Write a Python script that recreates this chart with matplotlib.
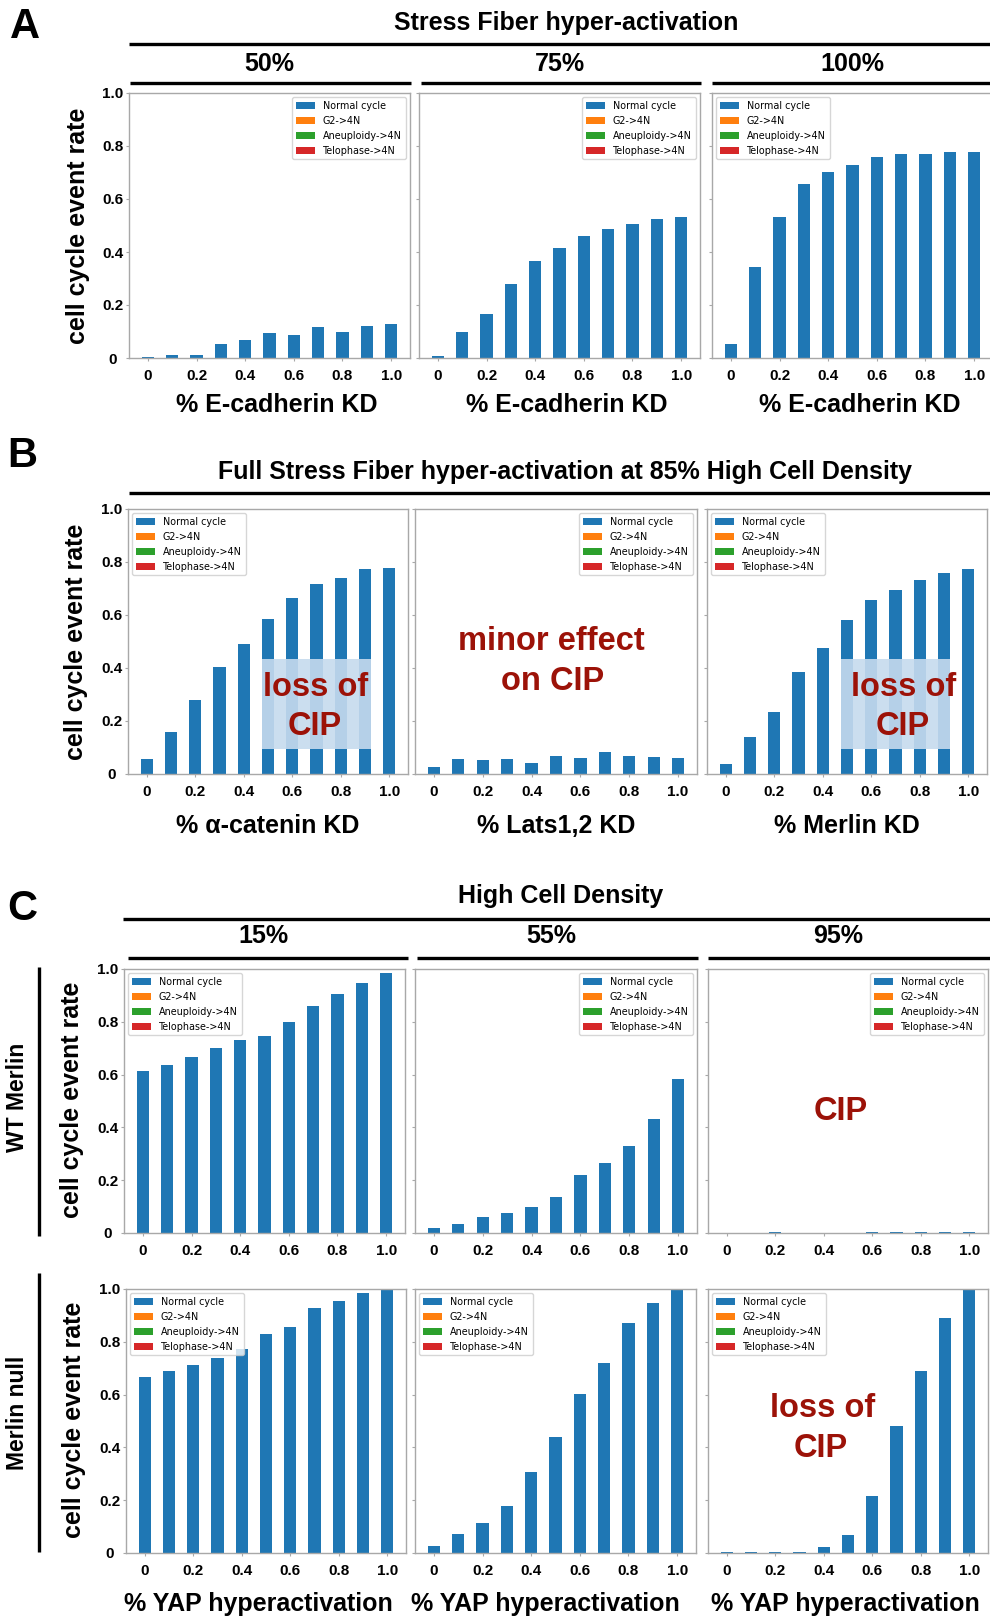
import matplotlib
matplotlib.use('Agg')
import matplotlib.pyplot as plt
from matplotlib.patches import Rectangle
from matplotlib.lines import Line2D
import numpy as np

plt.rcParams['font.family'] = ['Liberation Sans', 'DejaVu Sans']
plt.rcParams['font.weight'] = 'bold'

W, H = 990, 1618
DPI = 100

# ---------------- data ----------------
x_vals = [0.0, 0.1, 0.2, 0.3, 0.4, 0.5, 0.6, 0.7, 0.8, 0.9, 1.0]
xticks = [0, 0.2, 0.4, 0.6, 0.8, 1.0]
xtick_labels = ['0', '0.2', '0.4', '0.6', '0.8', '1.0']
yticks = [0, 0.2, 0.4, 0.6, 0.8, 1.0]
ytick_labels = ['0', '0.2', '0.4', '0.6', '0.8', '1.0']
series_names = ['Normal cycle', 'G2->4N', 'Aneuploidy->4N', 'Telophase->4N']
series_colors = ['#1f77b4', '#ff7f0e', '#2ca02c', '#d62728']
g2_4n = [0] * 11
aneuploidy_4n = [0] * 11
telophase_4n = [0] * 11

a_titles = ['50%', '75%', '100%']
a_normal_50 = [0.005, 0.010, 0.012, 0.053, 0.069, 0.094, 0.088, 0.117, 0.098, 0.119, 0.129]
a_normal_75 = [0.006, 0.100, 0.166, 0.279, 0.366, 0.414, 0.461, 0.486, 0.504, 0.523, 0.532]
a_normal_100 = [0.054, 0.343, 0.532, 0.656, 0.703, 0.728, 0.759, 0.768, 0.770, 0.778, 0.779]

b_xlabels = ['% \u03b1-catenin KD', '% Lats1,2 KD', '% Merlin KD']
b_normal_acat = [0.055, 0.160, 0.280, 0.404, 0.489, 0.584, 0.664, 0.717, 0.740, 0.774, 0.777]
b_normal_lats = [0.026, 0.058, 0.052, 0.058, 0.042, 0.069, 0.059, 0.082, 0.069, 0.063, 0.059]
b_normal_merlin = [0.038, 0.138, 0.234, 0.384, 0.477, 0.580, 0.657, 0.694, 0.732, 0.760, 0.774]

c_titles = ['15%', '55%', '95%']
c_rows = ['WT Merlin', 'Merlin null']
c_wt_15 = [0.612, 0.637, 0.666, 0.701, 0.731, 0.747, 0.801, 0.858, 0.907, 0.947, 0.986]
c_wt_55 = [0.019, 0.034, 0.059, 0.074, 0.097, 0.135, 0.221, 0.264, 0.330, 0.431, 0.585]
c_wt_95 = [0.0, 0.0, 0.002, 0.0, 0.0, 0.0, 0.002, 0.002, 0.002, 0.002, 0.002]
c_null_15 = [0.665, 0.689, 0.711, 0.737, 0.774, 0.831, 0.856, 0.928, 0.956, 0.985, 1.0]
c_null_55 = [0.025, 0.071, 0.112, 0.179, 0.307, 0.439, 0.602, 0.718, 0.872, 0.948, 1.0]
c_null_95 = [0.002, 0.002, 0.002, 0.004, 0.023, 0.067, 0.217, 0.481, 0.689, 0.890, 1.0]

# ---------------- styling ----------------
DARKRED = '#9c1208'
SPINE = '#a8a8a8'
BOXBLUE = '#c6dbee'

fig = plt.figure(figsize=(W / DPI, H / DPI), dpi=DPI)


def px_axes(l, t, r, b):
    return fig.add_axes([l / W, 1 - b / H, (r - l) / W, (b - t) / H])


def ptext(x, y, s, **kw):
    return fig.text(x / W, 1 - y / H, s, **kw)


def hline(x0, x1, y, lw=2.4):
    fig.add_artist(Line2D([x0 / W, x1 / W], [1 - y / H, 1 - y / H],
                          transform=fig.transFigure, color='black', lw=lw,
                          solid_capstyle='butt'))


def vline(x, y0, y1, lw=2.4):
    fig.add_artist(Line2D([x / W, x / W], [1 - y0 / H, 1 - y1 / H],
                          transform=fig.transFigure, color='black', lw=lw,
                          solid_capstyle='butt'))


def draw_panel(box, normal, legend_loc, show_ylabels):
    ax = px_axes(*box)
    bottom = np.zeros(len(x_vals))
    for name, color, vals in zip(series_names, series_colors,
                                 [normal, g2_4n, aneuploidy_4n, telophase_4n]):
        ax.bar(x_vals, vals, width=0.05, bottom=bottom, color=color, label=name)
        bottom = bottom + np.array(vals)
    ax.set_ylim(0, 1.0)
    ax.set_xticks(xticks)
    ax.set_xticklabels(xtick_labels)
    ax.set_yticks(yticks)
    if show_ylabels:
        ax.set_yticklabels(ytick_labels)
        for lab in ax.get_yticklabels():
            lab.set_horizontalalignment('center')
    else:
        ax.set_yticklabels([])
    for sp in ax.spines.values():
        sp.set_color(SPINE)
        sp.set_linewidth(1.0)
    ax.tick_params(axis='x', length=2.5, width=0.8, color=SPINE, labelsize=11, pad=5.5)
    ax.tick_params(axis='y', length=2.5, width=0.8, color=SPINE, labelsize=11, pad=9.0)
    ax.legend(loc=legend_loc, prop={'family': 'DejaVu Sans', 'size': 6.9, 'weight': 'normal'},
              borderaxespad=0.45)
    return ax


def cip_box(ax):
    ax.add_patch(Rectangle((0.475, 0.095), 0.45, 0.34, facecolor=BOXBLUE,
                           edgecolor='none', alpha=0.9, zorder=3))


ANN = dict(color=DARKRED, fontsize=23.5, fontweight='bold', ha='center', va='baseline',
           family='Liberation Sans')
HDR = dict(fontsize=18, fontweight='bold', ha='center', va='baseline', family='Liberation Sans')

# ---------------- Panel A ----------------
ptext(24.5, 38, 'A', fontsize=30, fontweight='bold', ha='center', va='baseline')
ptext(566, 30, 'Stress Fiber hyper-activation', **HDR)
hline(129, 990, 44)
a_boxes = [(129, 93, 410, 358), (419, 93, 700, 358), (712, 93, 993, 358)]
a_data = [a_normal_50, a_normal_75, a_normal_100]
a_locs = ['upper right', 'upper right', 'upper left']
a_hdr_lines = [(130, 411), (421, 701), (712, 990)]
for i in range(3):
    l, t, r, b = a_boxes[i]
    draw_panel(a_boxes[i], a_data[i], a_locs[i], i == 0)
    ptext((l + r) / 2, 71, a_titles[i], **HDR)
    hline(a_hdr_lines[i][0], a_hdr_lines[i][1], 83)
    ptext((l + r) / 2 + 7.5, 412, '% E-cadherin KD', **HDR)
ptext(78, 225.5, 'cell cycle event rate', fontsize=18, fontweight='bold',
      rotation=90, ha='center', va='center')

# ---------------- Panel B ----------------
ptext(22.5, 467, 'B', fontsize=30, fontweight='bold', ha='center', va='baseline')
ptext(565.5, 479, 'Full Stress Fiber hyper-activation at 85% High Cell Density', **HDR)
hline(129, 990, 493)
b_boxes = [(128, 509, 408, 774), (415, 509, 697, 774), (707, 509, 987, 774)]
b_data = [b_normal_acat, b_normal_lats, b_normal_merlin]
b_locs = ['upper left', 'upper right', 'upper left']
b_axes = []
for i in range(3):
    l, t, r, b = b_boxes[i]
    b_axes.append(draw_panel(b_boxes[i], b_data[i], b_locs[i], i == 0))
    ptext((l + r) / 2, 833, b_xlabels[i], **HDR)
ptext(76, 641.5, 'cell cycle event rate', fontsize=18, fontweight='bold',
      rotation=90, ha='center', va='center')
cip_box(b_axes[0])
cip_box(b_axes[2])
ptext(316, 696, 'loss of', **ANN)
ptext(314.5, 735, 'CIP', **ANN)
ptext(904, 696, 'loss of', **ANN)
ptext(903, 735, 'CIP', **ANN)
ptext(551.5, 650, 'minor effect', **ANN)
ptext(553, 690, 'on CIP', **ANN)

# ---------------- Panel C ----------------
ptext(22, 920, 'C', fontsize=30, fontweight='bold', ha='center', va='baseline')
ptext(561, 903, 'High Cell Density', **HDR)
hline(123, 990, 919)
c_boxes_r1 = [(124, 969, 405, 1233), (415, 969, 697, 1233), (708, 969, 988, 1233)]
c_boxes_r2 = [(126, 1289, 406, 1553), (415, 1289, 696, 1553), (708, 1289, 988, 1553)]
c_data_r1 = [c_wt_15, c_wt_55, c_wt_95]
c_data_r2 = [c_null_15, c_null_55, c_null_95]
c_locs_r1 = ['upper left', 'upper right', 'upper right']
c_locs_r2 = ['upper left', 'upper left', 'upper left']
c_hdr_lines = [(128, 408), (417, 698), (708, 990)]
c_hdr_x = [263, 551, 838]
for i in range(3):
    draw_panel(c_boxes_r1[i], c_data_r1[i], c_locs_r1[i], i == 0)
    ptext(c_hdr_x[i], 943, c_titles[i], **HDR)
    hline(c_hdr_lines[i][0], c_hdr_lines[i][1], 958)
for i in range(3):
    draw_panel(c_boxes_r2[i], c_data_r2[i], c_locs_r2[i], i == 0)
c_xl_x = [258, 545.5, 845]
for i in range(3):
    ptext(c_xl_x[i], 1611, '% YAP hyperactivation', **HDR)
ptext(72.5, 1100, 'cell cycle event rate', fontsize=18, fontweight='bold',
      rotation=90, ha='center', va='center')
ptext(73.5, 1420, 'cell cycle event rate', fontsize=18, fontweight='bold',
      rotation=90, ha='center', va='center')
ptext(18, 1097, c_rows[0], fontsize=16.5, fontweight='bold', rotation=90,
      ha='center', va='center')
ptext(18, 1412.5, c_rows[1], fontsize=16.5, fontweight='bold', rotation=90,
      ha='center', va='center')
vline(39, 967, 1236)
vline(39, 1273, 1552)
ptext(841, 1120, 'CIP', **ANN)
ptext(822.5, 1417, 'loss of', **ANN)
ptext(820.5, 1457, 'CIP', **ANN)

fig.savefig('out.png', dpi=DPI)
